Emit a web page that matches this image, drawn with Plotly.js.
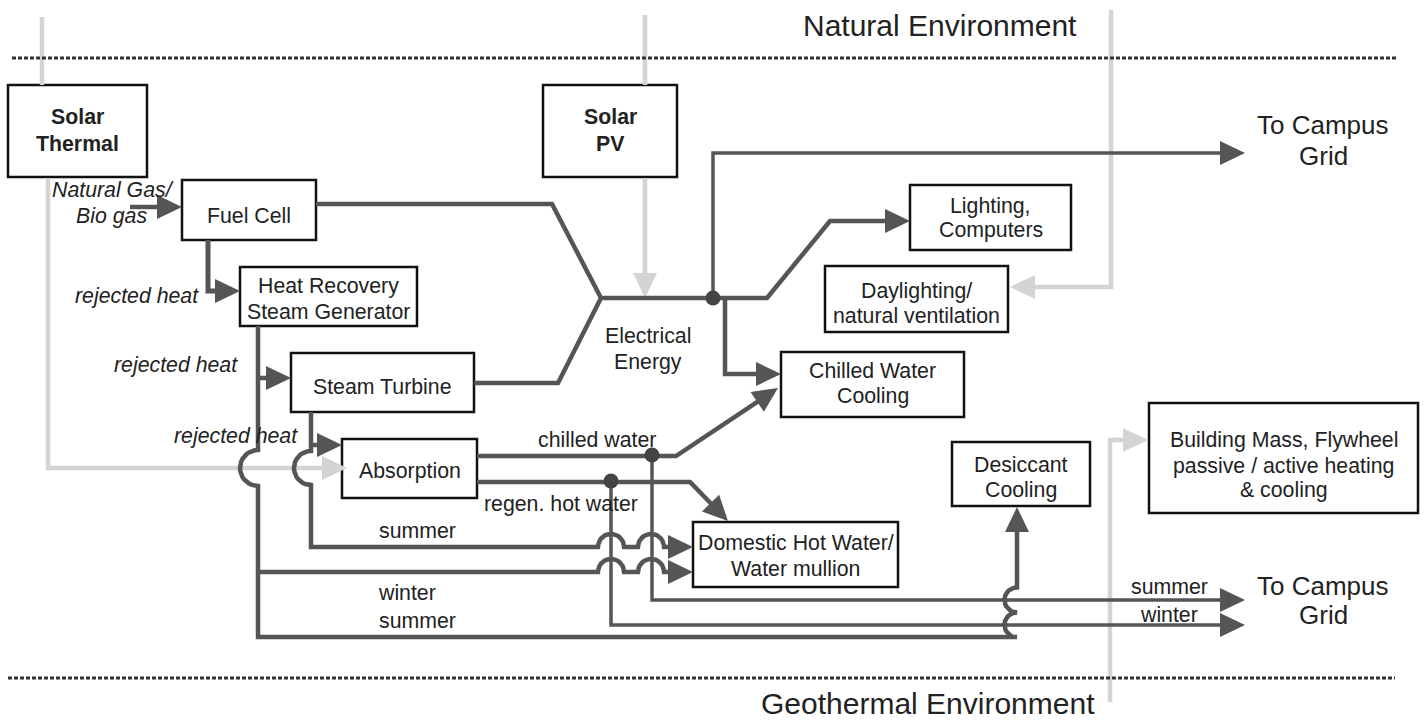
<!DOCTYPE html>
<html>
<head>
<meta charset="utf-8">
<script src="https://cdn.plot.ly/plotly-3.0.1.min.js"></script>
<style>html,body{margin:0;padding:0;background:#fff;}#chart{width:1424px;height:720px;}</style>
</head>
<body>
<div id="chart"></div>
<script>
// ---------- content (text) ----------
const boxLabels = [
  ['Solar', 'Thermal'],
  ['Solar', 'PV'],
  ['Fuel Cell'],
  ['Heat Recovery', 'Steam Generator'],
  ['Steam Turbine'],
  ['Absorption'],
  ['Lighting,', 'Computers'],
  ['Daylighting/', 'natural ventilation'],
  ['Chilled Water', 'Cooling'],
  ['Desiccant', 'Cooling'],
  ['Building Mass, Flywheel', 'passive / active heating', '& cooling'],
  ['Domestic Hot Water/', 'Water mullion']
];
const boxBold = [true, true, false, false, false, false, false, false, false, false, false, false];
const flowLabels = ['Natural Gas/', 'Bio gas', 'rejected heat', 'rejected heat', 'rejected heat',
  'Electrical', 'Energy', 'chilled water', 'regen. hot water', 'summer', 'winter', 'summer', 'summer', 'winter'];
const flowItalic = [true, true, true, true, true, false, false, false, false, false, false, false, false, false];
const headerLabels = ['Natural Environment', 'Geothermal Environment'];
const gridLabels = ['To Campus', 'Grid', 'To Campus', 'Grid'];

// ---------- layout geometry ----------
const boxX0 = [8, 543, 182, 240, 291, 342, 910, 825, 781, 952, 1149, 693];
const boxX1 = [147, 677, 316, 417, 474, 477, 1071, 1008, 964, 1090, 1418, 898];
const boxY0 = [85, 85, 180, 267, 353, 439, 185, 266, 352, 442, 403, 522];
const boxY1 = [177, 177, 240, 326, 412, 498, 250, 332, 417, 506, 513, 587];
const boxTextY = [[117, 144], [117, 144], [216], [285.5, 311.5], [387], [471], [206, 230],
  [290.5, 315.5], [370.5, 395.5], [464.5, 490], [440, 465.5, 490], [542.5, 568.5]];
const flowX = [112.5, 111.5, 136.5, 175.5, 235.5, 648, 648, 597, 560.5, 417, 406.5, 417, 1169, 1169];
const flowY = [190, 215.5, 296, 364.5, 435.5, 335.5, 361.5, 439.5, 504, 530.5, 592.5, 621, 587, 615];
const headerX = [939.5, 927.5];
const headerY = [25, 703];
const gridX = [1323, 1323, 1323, 1323];
const gridY = [125, 156, 585.5, 614.5];

// dark flow paths: points [x,y] or {arc:[cx,cy,r,a0,a1]}
const darkPaths = [
  {pts: [[130, 207], [182, 207]], arrow: true, w: 4.5},
  {pts: [[316, 204], [552, 204], [601, 298]], arrow: false, w: 4.5},
  {pts: [[474, 383], [558, 383], [601, 298]], arrow: false, w: 4.5},
  {pts: [[601, 298], [767, 298], [830, 221], [910, 221]], arrow: true, w: 4.5},
  {pts: [[713, 298], [713, 153], [1245, 153]], arrow: true, w: 3.5},
  {pts: [[725, 298], [725, 374], [781, 374]], arrow: true, w: 4.5},
  {pts: [[208, 240], [208, 291], [240, 291]], arrow: true, w: 5},
  {pts: [[258, 378], [291, 378]], arrow: true, w: 4.5},
  {pts: [[258, 326], [258, 450], {arc: [258, 468, 18, -90, -270]}, [258, 486], [258, 637], [1017, 637],
         {arc: [1017, 625, 12.5, 90, 270]}, {arc: [1017, 600, 12.5, 90, 270]}, [1017, 507]], arrow: true, w: 4.5},
  {pts: [[258, 572], [598, 572], {arc: [611, 572, 13, 180, 360]}, {arc: [651, 572, 13, 180, 360]}, [693, 572]], arrow: true, w: 4.5},
  {pts: [[311, 412], [311, 451], {arc: [311, 468, 17, -90, -270]}, [311, 485], [311, 547], [598, 547],
         {arc: [611, 547, 13, 180, 360]}, {arc: [651, 547, 13, 180, 360]}, [693, 547]], arrow: true, w: 4.5},
  {pts: [[311, 445], [342, 445]], arrow: true, w: 4.5},
  {pts: [[477, 456], [676, 456], [778, 388]], arrow: true, w: 4.5},
  {pts: [[477, 482], [690, 482], [728, 521]], arrow: true, w: 4.5},
  {pts: [[652, 455], [652, 600], [1245, 600]], arrow: true, w: 3.5},
  {pts: [[611, 481], [611, 625], [1245, 625]], arrow: true, w: 3.5}
];
const lightPaths = [
  {pts: [[42, 17], [42, 85]], arrow: false, w: 4.5},
  {pts: [[48, 178], [48, 468], [347, 468]], arrow: true, w: 4.5},
  {pts: [[645, 15], [645, 85]], arrow: false, w: 4.5},
  {pts: [[645, 178], [645, 298]], arrow: true, w: 4.5},
  {pts: [[1111, 10], [1111, 287], [1010, 287]], arrow: true, w: 4.5},
  {pts: [[1110, 702], [1110, 440], [1148, 440]], arrow: true, w: 4.5}
];
const junctionX = [713, 652, 611];
const junctionY = [298, 455, 481];
const dividerY = [58, 678];
const dividerX0 = [12, 8];
const dividerX1 = [1397, 1395];

// ---------- styles ----------
const FONT = 'Liberation Sans, Arial, sans-serif';
const TXT = '#222';
const DARK = '#555555';
const LIGHT = '#d4d4d4';
const AL = 25, AHW = 12;

function buildPath(items) {
  const xs = [], ys = [];
  items.forEach(it => {
    if (Array.isArray(it)) { xs.push(it[0]); ys.push(it[1]); }
    else {
      const [cx, cy, r, a0, a1] = it.arc;
      const n = 18;
      for (let i = 0; i <= n; i++) {
        const a = (a0 + (a1 - a0) * i / n) * Math.PI / 180;
        xs.push(cx + r * Math.cos(a)); ys.push(cy + r * Math.sin(a));
      }
    }
  });
  return {xs, ys};
}

const traces = [];
function addPaths(paths, color) {
  paths.forEach(p => {
    const {xs, ys} = buildPath(p.pts);
    let tri = null;
    if (p.arrow) {
      const n = xs.length;
      const tx = xs[n - 1], ty = ys[n - 1], px = xs[n - 2], py = ys[n - 2];
      const d = Math.hypot(tx - px, ty - py);
      const ux = (tx - px) / d, uy = (ty - py) / d;
      const bx = tx - ux * AL, by = ty - uy * AL;
      xs[n - 1] = bx + ux * 2; ys[n - 1] = by + uy * 2;
      tri = {x: [tx, bx - uy * AHW, bx + uy * AHW, tx], y: [ty, by + ux * AHW, by - ux * AHW, ty]};
    }
    traces.push({type: 'scatter', mode: 'lines', x: xs, y: ys, hoverinfo: 'skip',
      line: {color: color, width: p.w}});
    if (tri) traces.push({type: 'scatter', mode: 'lines', x: tri.x, y: tri.y, fill: 'toself',
      fillcolor: color, line: {width: 0, color: color}, hoverinfo: 'skip'});
  });
}
addPaths(lightPaths, LIGHT);
addPaths(darkPaths, DARK);

traces.push({type: 'scatter', mode: 'markers', x: junctionX, y: junctionY, hoverinfo: 'skip',
  marker: {size: 15, color: '#444'}});

dividerY.forEach((y, i) => {
  traces.push({type: 'scatter', mode: 'lines', x: [dividerX0[i], dividerX1[i]], y: [y, y], hoverinfo: 'skip',
    line: {color: '#333', width: 3, dash: '4px,2px'}});
});

const shapes = boxLabels.map((_, i) => ({
  type: 'rect', xref: 'x', yref: 'y', x0: boxX0[i], x1: boxX1[i], y0: boxY0[i], y1: boxY1[i],
  fillcolor: 'white', line: {color: '#111', width: 2.5}, layer: 'below'
}));

const annotations = [];
function ann(x, y, text, size) {
  annotations.push({x, y, xref: 'x', yref: 'y', text, showarrow: false, xanchor: 'center', yanchor: 'middle',
    font: {family: FONT, size: size, color: TXT}});
}
boxLabels.forEach((lines, i) => {
  const cx = (boxX0[i] + boxX1[i]) / 2;
  lines.forEach((t, j) => ann(cx, boxTextY[i][j], boxBold[i] ? '<b>' + t + '</b>' : t, 21.3));
});
flowLabels.forEach((t, i) => ann(flowX[i], flowY[i], flowItalic[i] ? '<i>' + t + '</i>' : t, 21.3));
headerLabels.forEach((t, i) => ann(headerX[i], headerY[i], t, 30));
gridLabels.forEach((t, i) => ann(gridX[i], gridY[i], t, 26));

const layout = {
  width: 1424, height: 720, margin: {l: 0, r: 0, t: 0, b: 0, pad: 0},
  paper_bgcolor: '#fff', plot_bgcolor: '#fff', showlegend: false,
  xaxis: {range: [0, 1424], visible: false, fixedrange: true},
  yaxis: {range: [720, 0], visible: false, fixedrange: true},
  shapes, annotations
};
Plotly.newPlot('chart', traces, layout, {displayModeBar: false, staticPlot: true});
</script>
</body>
</html>
